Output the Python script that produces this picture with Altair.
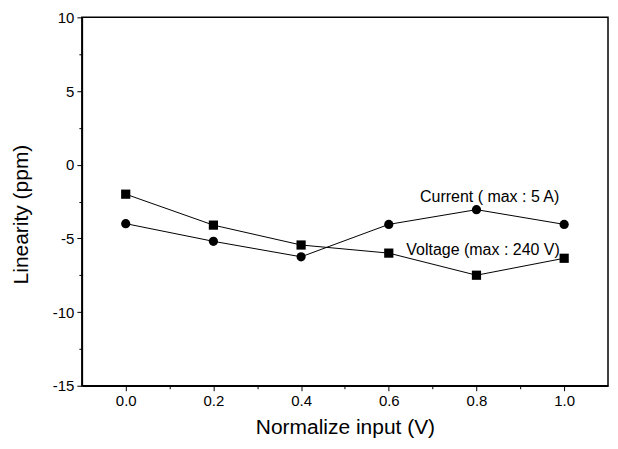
import altair as alt
import pandas as pd

# ---- data ----
x_input = [0.0, 0.2, 0.4, 0.6, 0.8, 1.0]
current_ppm = [-4.0, -5.2, -6.25, -4.05, -3.05, -4.05]
voltage_ppm = [-2.0, -4.1, -5.45, -6.0, -7.5, -6.35]
series_names = ["Current", "Voltage"]

label_texts = ["Current ( max : 5 A)", "Voltage (max : 240 V)"]
label_x = [0.83, 0.815]
label_y = [-2.2, -5.8]

x_major = [0.0, 0.2, 0.4, 0.6, 0.8, 1.0]
x_minor = [0.1, 0.3, 0.5, 0.7, 0.9]
y_major = [-15, -10, -5, 0, 5, 10]
y_minor = [-12.5, -7.5, -2.5, 2.5, 7.5]

rows = []
for name, vals in zip(series_names, [current_ppm, voltage_ppm]):
    for xv, yv in zip(x_input, vals):
        rows.append({"series": name, "x": xv, "y": yv})
df = pd.DataFrame(rows)
labels_df = pd.DataFrame({"text": label_texts, "x": label_x, "y": label_y})

FONT = "Liberation Sans"
xscale = alt.Scale(domain=[-0.1, 1.1], nice=False, zero=False)
yscale = alt.Scale(domain=[-15, 10], nice=False, zero=False)

x_axis = alt.Axis(values=x_major, format=".1f", title="Normalize input (V)",
                  titleX=263.5, titleY=31, orient="bottom")
y_axis = alt.Axis(values=y_major, labelExpr="toString(datum.value)",
                  title="Linearity (ppm)",
                  titleX=-50, titleY=197, orient="left")

base = alt.Chart(df)

lines = base.mark_line(color="black", strokeWidth=1).encode(
    x=alt.X("x:Q", scale=xscale, axis=x_axis),
    y=alt.Y("y:Q", scale=yscale, axis=y_axis),
    detail="series:N",
)

points = base.mark_point(filled=True, color="black", opacity=1, size=85).encode(
    x=alt.X("x:Q", scale=xscale),
    y=alt.Y("y:Q", scale=yscale),
    shape=alt.Shape("series:N",
                    scale=alt.Scale(domain=series_names, range=["circle", "square"]),
                    legend=None),
)

texts = alt.Chart(labels_df).mark_text(font=FONT, fontSize=16, color="black").encode(
    x=alt.X("x:Q", scale=xscale),
    y=alt.Y("y:Q", scale=yscale),
    text="text:N",
)

main = alt.layer(lines, points, texts)

minor = alt.Chart(df).mark_point(opacity=0).encode(
    x=alt.X("x:Q", scale=xscale,
            axis=alt.Axis(values=x_minor, labels=False, tickSize=3, domain=False,
                          title=None, orient="bottom")),
    y=alt.Y("y:Q", scale=yscale,
            axis=alt.Axis(values=y_minor, labels=False, tickSize=3, domain=False,
                          title=None, orient="left")),
)

chart = alt.layer(main, minor).resolve_axis(
    x="independent", y="independent"
).properties(
    width=527,
    height=369,
    background="white",
    autosize=alt.AutoSizeParams(type="none"),
    padding={"left": 74, "top": 9, "right": 2, "bottom": 62},
).configure_view(
    stroke="black", strokeWidth=1.5
).configure_axis(
    grid=False,
    domainColor="black",
    domainWidth=1.5,
    tickColor="black",
    tickSize=5,
    tickWidth=1,
    labelFont=FONT,
    labelFontSize=15,
    labelColor="black",
    labelPadding=3,
    titleFont=FONT,
    titleFontSize=21,
    titleFontWeight="normal",
    titleColor="black",
)

chart.save("out.html", embed_options={"renderer": "svg", "actions": False})
